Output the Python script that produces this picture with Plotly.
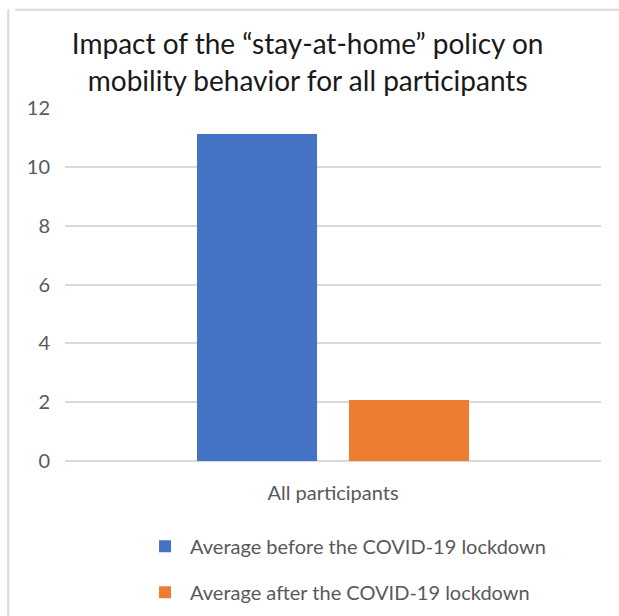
import plotly.graph_objects as go

# Data
categories = ["All participants"]
series_names = ["Average before the COVID-19 lockdown", "Average after the COVID-19 lockdown"]
before_values = [11.12]
after_values = [2.07]
y_ticks = [0, 2, 4, 6, 8, 10, 12]

blue = "#4472C4"
orange = "#ED7D31"
grey_text = "#595959"
font_family = "Lato, 'Open Sans', sans-serif"

fig = go.Figure()
fig.add_trace(go.Bar(x=categories, y=before_values, name=series_names[0], legendgroup="a",
                     marker=dict(color=blue, line=dict(width=0))))
fig.add_trace(go.Bar(x=categories, y=after_values, name=series_names[1], legendgroup="b",
                     marker=dict(color=orange, line=dict(width=0))))

fig.update_layout(
    width=619, height=616,
    margin=dict(l=65, r=18, t=108, b=155, autoexpand=False),
    paper_bgcolor="white", plot_bgcolor="white",
    barmode="group", bargap=0.433, bargroupgap=0.21,
    title=dict(
        text="Impact of the “stay-at-home” policy on<br>mobility behavior for all participants",
        x=0.497, xanchor="center", y=0.912, yanchor="middle",
        font=dict(family=font_family, size=28, color="#1a1a1a"),
    ),
    xaxis=dict(showgrid=False, showline=False, ticks="", ticklabelstandoff=18,
               tickfont=dict(family=font_family, size=20, color=grey_text)),
    yaxis=dict(range=[0, 12], tickvals=y_ticks, showgrid=True, gridcolor="#d9d9d9",
               gridwidth=1.5, zeroline=True, zerolinecolor="#d9d9d9", zerolinewidth=1.5,
               ticks="", ticklabelstandoff=14,
               tickfont=dict(family=font_family, size=20, color=grey_text)),
    legend=dict(orientation="v", x=0.14, xanchor="left", y=-0.186, yanchor="top",
                font=dict(family=font_family, size=20, color=grey_text),
                itemwidth=40, tracegroupgap=17, traceorder="grouped"),
    showlegend=True,
)

# Chart frame
fig.add_shape(type="line", xref="paper", yref="paper", x0=-0.093, x1=1.1, y0=1.278, y1=1.278,
              line=dict(color="#d9d9d9", width=2))
fig.add_shape(type="line", xref="paper", yref="paper", x0=-0.106, x1=-0.106, y0=1.28, y1=-0.5,
              line=dict(color="#d9d9d9", width=2))

fig.write_html("out.html")
